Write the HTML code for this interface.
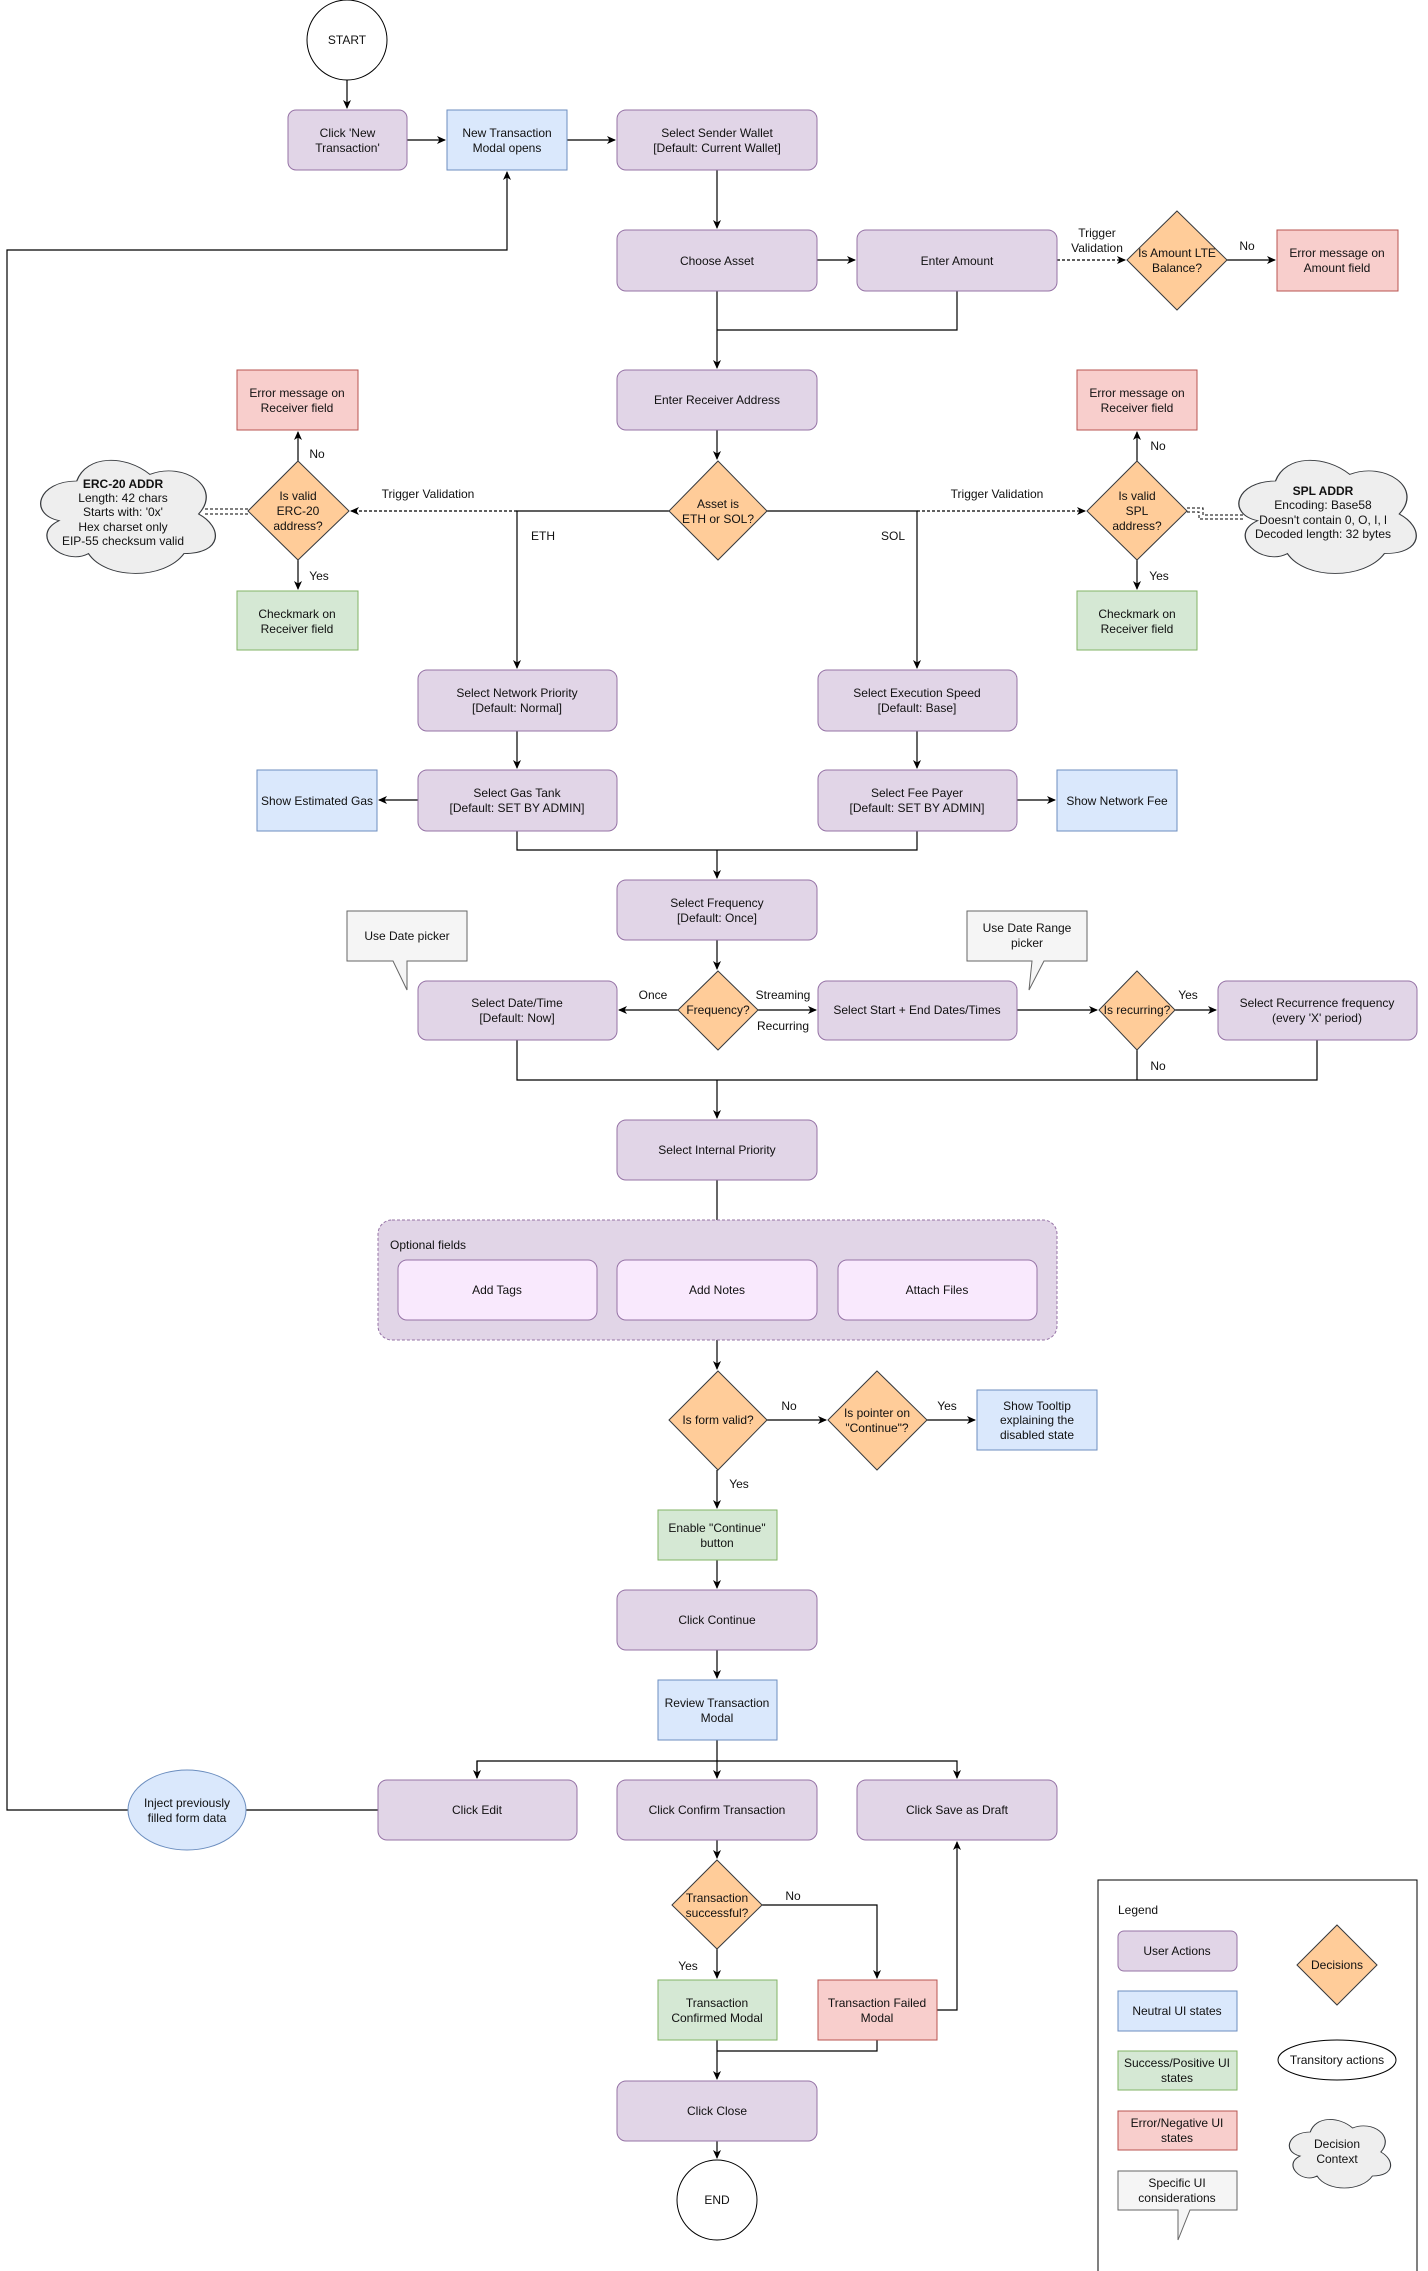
<!DOCTYPE html>
<html><head><meta charset="utf-8"><style>
html,body{margin:0;padding:0;background:#fff}
svg{display:block}
text{font-family:"Liberation Sans",Arial,sans-serif;font-size:12px;fill:#111}
.u{fill:#e1d5e7;stroke:#9673a6;stroke-width:1}
.b{fill:#dae8fc;stroke:#6c8ebf}
.g{fill:#d5e8d4;stroke:#82b366}
.r{fill:#f8cecc;stroke:#b85450}
.d{fill:#ffcc99;stroke:#36393d}
.c{fill:#eeeeee;stroke:#36393d}
.s{fill:#f5f5f5;stroke:#666}
.p{fill:#f9e9fd;stroke:#9673a6}
.l{fill:none;stroke:#000;stroke-width:1.2}
.dl{fill:none;stroke:#000;stroke-width:1.2;stroke-dasharray:3 2}
</style></head><body>
<svg width="1428" height="2271" viewBox="0 0 1428 2271" xmlns="http://www.w3.org/2000/svg">
<defs>
<marker id="a" markerWidth="10" markerHeight="10" refX="8" refY="5" orient="auto" markerUnits="userSpaceOnUse"><path d="M0,1 L9,5 L0,9 L2.5,5 Z" fill="#000"/></marker>
<path id="cl" d="M0.25,0.25 C0.05,0.25 0,0.5 0.16,0.55 C0,0.66 0.18,0.9 0.31,0.8 C0.4,1 0.7,1 0.8,0.8 C1,0.8 1,0.6 0.875,0.5 C1,0.3 0.8,0.1 0.625,0.2 C0.5,0.05 0.3,0.05 0.25,0.25 Z"/>
</defs>

<!-- connectors -->
<g class="l">
<path d="M347,80 V108" marker-end="url(#a)"/>
<path d="M407,140 H445" marker-end="url(#a)"/>
<path d="M567,140 H615" marker-end="url(#a)"/>
<path d="M717,170 V228" marker-end="url(#a)"/>
<path d="M817,260 H855" marker-end="url(#a)"/>
<path d="M1227,260 H1275" marker-end="url(#a)"/>
<path d="M717,291 V368" marker-end="url(#a)"/>
<path d="M957,291 V330 H717"/>
<path d="M717,430 V459" marker-end="url(#a)"/>
<path d="M669,511 H517 V668" marker-end="url(#a)"/>
<path d="M767,511 H917 V668" marker-end="url(#a)"/>
<path d="M298,461 V432" marker-end="url(#a)"/>
<path d="M298,560 V589" marker-end="url(#a)"/>
<path d="M1137,461 V432" marker-end="url(#a)"/>
<path d="M1137,560 V589" marker-end="url(#a)"/>
<path d="M517,731 V768" marker-end="url(#a)"/>
<path d="M917,731 V768" marker-end="url(#a)"/>
<path d="M418,800 H379" marker-end="url(#a)"/>
<path d="M1017,800 H1055" marker-end="url(#a)"/>
<path d="M517,831 V850 H917 V831"/>
<path d="M717,850 V878" marker-end="url(#a)"/>
<path d="M717,940 V969" marker-end="url(#a)"/>
<path d="M678,1010 H619" marker-end="url(#a)"/>
<path d="M758,1010 H816" marker-end="url(#a)"/>
<path d="M1017,1010 H1097" marker-end="url(#a)"/>
<path d="M1175,1010 H1216" marker-end="url(#a)"/>
<path d="M517,1040 V1080 H1317 V1040"/>
<path d="M1137,1050 V1080"/>
<path d="M717,1080 V1118" marker-end="url(#a)"/>
<path d="M717,1180 V1220"/>
<path d="M717,1340 V1369" marker-end="url(#a)"/>
<path d="M767,1420 H826" marker-end="url(#a)"/>
<path d="M927,1420 H975" marker-end="url(#a)"/>
<path d="M717,1470 V1508" marker-end="url(#a)"/>
<path d="M717,1560 V1588" marker-end="url(#a)"/>
<path d="M717,1650 V1678" marker-end="url(#a)"/>
<path d="M717,1740 V1778" marker-end="url(#a)"/>
<path d="M477,1778 V1761 H957 V1778" marker-end="url(#a)"/>
<path d="M477,1761 V1778" marker-end="url(#a)"/>
<path d="M378,1810 H246"/>
<path d="M128,1810 H7 V250 H507 V172" marker-end="url(#a)"/>
<path d="M717,1840 V1858" marker-end="url(#a)"/>
<path d="M762,1905 H877 V1978" marker-end="url(#a)"/>
<path d="M717,1949 V1978" marker-end="url(#a)"/>
<path d="M937,2010 H957 V1842" marker-end="url(#a)"/>
<path d="M717,2040 V2079" marker-end="url(#a)"/>
<path d="M877,2040 V2051 H717"/>
<path d="M717,2141 V2158" marker-end="url(#a)"/>
</g>
<g class="dl">
<path d="M1057,260 H1125" marker-end="url(#a)"/>
<path d="M517,511 H351" marker-end="url(#a)"/>
<path d="M917,511 H1085" marker-end="url(#a)"/>
</g>
<g fill="none" stroke="#000" stroke-width="1" stroke-dasharray="3 2">
<path d="M248,509 H205 M248,514 H205"/>
<path d="M1187,508 H1203 V515 H1245 M1187,512 H1199 V519 H1245"/>
</g>

<!-- nodes -->
<ellipse cx="347" cy="40" rx="40" ry="40" fill="#fff" stroke="#000"/>
<text x="347" y="44" text-anchor="middle">START</text>
<rect class="u" x="288" y="110" width="119" height="60" rx="8"/>
<text x="347.5" y="137" text-anchor="middle">Click 'New</text><text x="347.5" y="152" text-anchor="middle">Transaction'</text>
<rect class="b" x="447" y="110" width="120" height="60"/>
<text x="507" y="137" text-anchor="middle">New Transaction</text><text x="507" y="152" text-anchor="middle">Modal opens</text>
<rect class="u" x="617" y="110" width="200" height="60" rx="9"/>
<text x="717" y="137" text-anchor="middle">Select Sender Wallet</text><text x="717" y="152" text-anchor="middle">[Default: Current Wallet]</text>
<rect class="u" x="617" y="230" width="200" height="61" rx="9"/>
<text x="717" y="265" text-anchor="middle">Choose Asset</text>
<rect class="u" x="857" y="230" width="200" height="61" rx="9"/>
<text x="957" y="265" text-anchor="middle">Enter Amount</text>
<text x="1097" y="237" text-anchor="middle">Trigger</text><text x="1097" y="252" text-anchor="middle">Validation</text>
<polygon class="d" points="1177,211 1227,260 1177,310 1127,260"/>
<text x="1177" y="257" text-anchor="middle">Is Amount LTE</text><text x="1177" y="272" text-anchor="middle">Balance?</text>
<text x="1247" y="250" text-anchor="middle">No</text>
<rect class="r" x="1277" y="230" width="121" height="61"/>
<text x="1337" y="257" text-anchor="middle">Error message on</text><text x="1337" y="272" text-anchor="middle">Amount field</text>

<rect class="u" x="617" y="370" width="200" height="60" rx="9"/>
<text x="717" y="404" text-anchor="middle">Enter Receiver Address</text>
<polygon class="d" points="718,461 767,511 718,560 669,511"/>
<text x="718" y="508" text-anchor="middle">Asset is</text><text x="718" y="523" text-anchor="middle">ETH or SOL?</text>
<text x="543" y="540" text-anchor="middle">ETH</text>
<text x="893" y="540" text-anchor="middle">SOL</text>
<text x="428" y="498" text-anchor="middle">Trigger Validation</text>
<text x="997" y="498" text-anchor="middle">Trigger Validation</text>

<rect class="r" x="237" y="370" width="121" height="60"/>
<text x="297" y="397" text-anchor="middle">Error message on</text><text x="297" y="412" text-anchor="middle">Receiver field</text>
<text x="317" y="458" text-anchor="middle">No</text>
<polygon class="d" points="298,461 349,511 298,560 248,511"/>
<text x="298" y="500" text-anchor="middle">Is valid</text><text x="298" y="515" text-anchor="middle">ERC-20</text><text x="298" y="530" text-anchor="middle">address?</text>
<text x="319" y="580" text-anchor="middle">Yes</text>
<rect class="g" x="237" y="591" width="121" height="59"/>
<text x="297" y="618" text-anchor="middle">Checkmark on</text><text x="297" y="633" text-anchor="middle">Receiver field</text>
<use href="#cl" class="c" transform="translate(28,448) scale(195,132)" vector-effect="non-scaling-stroke" style="stroke-width:0.0065"/>
<text x="123" y="488" text-anchor="middle" font-weight="bold">ERC-20 ADDR</text>
<text x="123" y="502" text-anchor="middle">Length: 42 chars</text>
<text x="123" y="516" text-anchor="middle">Starts with: '0x'</text>
<text x="123" y="531" text-anchor="middle">Hex charset only</text>
<text x="123" y="545" text-anchor="middle">EIP-55 checksum valid</text>

<rect class="r" x="1077" y="370" width="120" height="60"/>
<text x="1137" y="397" text-anchor="middle">Error message on</text><text x="1137" y="412" text-anchor="middle">Receiver field</text>
<text x="1158" y="450" text-anchor="middle">No</text>
<polygon class="d" points="1137,461 1187,511 1137,560 1087,511"/>
<text x="1137" y="500" text-anchor="middle">Is valid</text><text x="1137" y="515" text-anchor="middle">SPL</text><text x="1137" y="530" text-anchor="middle">address?</text>
<text x="1159" y="580" text-anchor="middle">Yes</text>
<rect class="g" x="1077" y="591" width="120" height="59"/>
<text x="1137" y="618" text-anchor="middle">Checkmark on</text><text x="1137" y="633" text-anchor="middle">Receiver field</text>
<use href="#cl" class="c" transform="translate(1226,448) scale(198,132)" style="stroke-width:0.0065"/>
<text x="1323" y="495" text-anchor="middle" font-weight="bold">SPL ADDR</text>
<text x="1323" y="509" text-anchor="middle">Encoding: Base58</text>
<text x="1323" y="524" text-anchor="middle">Doesn't contain 0, O, I, l</text>
<text x="1323" y="538" text-anchor="middle">Decoded length: 32 bytes</text>

<rect class="u" x="418" y="670" width="199" height="61" rx="9"/>
<text x="517" y="697" text-anchor="middle">Select Network Priority</text><text x="517" y="712" text-anchor="middle">[Default: Normal]</text>
<rect class="u" x="818" y="670" width="199" height="61" rx="9"/>
<text x="917" y="697" text-anchor="middle">Select Execution Speed</text><text x="917" y="712" text-anchor="middle">[Default: Base]</text>
<rect class="u" x="418" y="770" width="199" height="61" rx="9"/>
<text x="517" y="797" text-anchor="middle">Select Gas Tank</text><text x="517" y="812" text-anchor="middle">[Default: SET BY ADMIN]</text>
<rect class="u" x="818" y="770" width="199" height="61" rx="9"/>
<text x="917" y="797" text-anchor="middle">Select Fee Payer</text><text x="917" y="812" text-anchor="middle">[Default: SET BY ADMIN]</text>
<rect class="b" x="257" y="770" width="120" height="61"/>
<text x="317" y="805" text-anchor="middle">Show Estimated Gas</text>
<rect class="b" x="1057" y="770" width="120" height="61"/>
<text x="1117" y="805" text-anchor="middle">Show Network Fee</text>

<rect class="u" x="617" y="880" width="200" height="60" rx="9"/>
<text x="717" y="907" text-anchor="middle">Select Frequency</text><text x="717" y="922" text-anchor="middle">[Default: Once]</text>
<path class="s" d="M347,911 H467 V961 H407 L407,990 L393,961 H347 Z"/>
<text x="407" y="940" text-anchor="middle">Use Date picker</text>
<path class="s" d="M967,911 H1087 V961 H1044 L1029,990 L1032,961 H967 Z"/>
<text x="1027" y="932" text-anchor="middle">Use Date Range</text><text x="1027" y="947" text-anchor="middle">picker</text>
<rect class="u" x="418" y="981" width="199" height="59" rx="9"/>
<text x="517" y="1007" text-anchor="middle">Select Date/Time</text><text x="517" y="1022" text-anchor="middle">[Default: Now]</text>
<polygon class="d" points="718,971 758,1010 718,1050 678,1010"/>
<text x="718" y="1014" text-anchor="middle">Frequency?</text>
<text x="653" y="999" text-anchor="middle">Once</text>
<text x="783" y="999" text-anchor="middle">Streaming</text>
<text x="783" y="1030" text-anchor="middle">Recurring</text>
<rect class="u" x="818" y="981" width="199" height="59" rx="9"/>
<text x="917" y="1014" text-anchor="middle">Select Start + End Dates/Times</text>
<polygon class="d" points="1137,971 1175,1010 1137,1050 1099,1010"/>
<text x="1137" y="1014" text-anchor="middle">Is recurring?</text>
<text x="1188" y="999" text-anchor="middle">Yes</text>
<text x="1158" y="1070" text-anchor="middle">No</text>
<rect class="u" x="1218" y="981" width="199" height="59" rx="9"/>
<text x="1317" y="1007" text-anchor="middle">Select Recurrence frequency</text><text x="1317" y="1022" text-anchor="middle">(every 'X' period)</text>

<rect class="u" x="617" y="1120" width="200" height="60" rx="9"/>
<text x="717" y="1154" text-anchor="middle">Select Internal Priority</text>
<rect x="378" y="1220" width="679" height="120" rx="14" fill="#e1d5e7" stroke="#9673a6" stroke-dasharray="3 2"/>
<text x="390" y="1249">Optional fields</text>
<rect class="p" x="398" y="1260" width="199" height="60" rx="9"/>
<text x="497" y="1294" text-anchor="middle">Add Tags</text>
<rect class="p" x="617" y="1260" width="200" height="60" rx="9"/>
<text x="717" y="1294" text-anchor="middle">Add Notes</text>
<rect class="p" x="838" y="1260" width="199" height="60" rx="9"/>
<text x="937" y="1294" text-anchor="middle">Attach Files</text>

<polygon class="d" points="718,1371 767,1420 718,1470 669,1420"/>
<text x="718" y="1424" text-anchor="middle">Is form valid?</text>
<text x="789" y="1410" text-anchor="middle">No</text>
<polygon class="d" points="877,1371 927,1420 877,1470 828,1420"/>
<text x="877" y="1417" text-anchor="middle">Is pointer on</text><text x="877" y="1432" text-anchor="middle">"Continue"?</text>
<text x="947" y="1410" text-anchor="middle">Yes</text>
<rect class="b" x="977" y="1390" width="120" height="60"/>
<text x="1037" y="1410" text-anchor="middle">Show Tooltip</text><text x="1037" y="1424" text-anchor="middle">explaining the</text><text x="1037" y="1439" text-anchor="middle">disabled state</text>
<text x="739" y="1488" text-anchor="middle">Yes</text>

<rect class="g" x="658" y="1510" width="119" height="50"/>
<text x="717" y="1532" text-anchor="middle">Enable "Continue"</text><text x="717" y="1547" text-anchor="middle">button</text>
<rect class="u" x="617" y="1590" width="200" height="60" rx="9"/>
<text x="717" y="1624" text-anchor="middle">Click Continue</text>
<rect class="b" x="658" y="1680" width="119" height="60"/>
<text x="717" y="1707" text-anchor="middle">Review Transaction</text><text x="717" y="1722" text-anchor="middle">Modal</text>

<rect class="u" x="378" y="1780" width="199" height="60" rx="9"/>
<text x="477" y="1814" text-anchor="middle">Click Edit</text>
<rect class="u" x="617" y="1780" width="200" height="60" rx="9"/>
<text x="717" y="1814" text-anchor="middle">Click Confirm Transaction</text>
<rect class="u" x="857" y="1780" width="200" height="60" rx="9"/>
<text x="957" y="1814" text-anchor="middle">Click Save as Draft</text>
<ellipse class="b" cx="187" cy="1810" rx="59" ry="40"/>
<text x="187" y="1807" text-anchor="middle">Inject previously</text><text x="187" y="1822" text-anchor="middle">filled form data</text>

<polygon class="d" points="717,1860 762,1905 717,1949 672,1905"/>
<text x="717" y="1902" text-anchor="middle">Transaction</text><text x="717" y="1917" text-anchor="middle">successful?</text>
<text x="793" y="1900" text-anchor="middle">No</text>
<text x="688" y="1970" text-anchor="middle">Yes</text>
<rect class="g" x="658" y="1980" width="119" height="60"/>
<text x="717" y="2007" text-anchor="middle">Transaction</text><text x="717" y="2022" text-anchor="middle">Confirmed Modal</text>
<rect class="r" x="818" y="1980" width="119" height="60"/>
<text x="877" y="2007" text-anchor="middle">Transaction Failed</text><text x="877" y="2022" text-anchor="middle">Modal</text>
<rect class="u" x="617" y="2081" width="200" height="60" rx="9"/>
<text x="717" y="2115" text-anchor="middle">Click Close</text>
<ellipse cx="717" cy="2200" rx="40" ry="40" fill="#fff" stroke="#000"/>
<text x="717" y="2204" text-anchor="middle">END</text>

<!-- legend -->
<rect x="1098" y="1880" width="319" height="400" fill="#fff" stroke="#000"/>
<text x="1118" y="1914">Legend</text>
<rect class="u" x="1118" y="1931" width="119" height="40" rx="6"/>
<text x="1177" y="1955" text-anchor="middle">User Actions</text>
<rect class="b" x="1118" y="1991" width="119" height="40"/>
<text x="1177" y="2015" text-anchor="middle">Neutral UI states</text>
<rect class="g" x="1118" y="2051" width="119" height="39"/>
<text x="1177" y="2067" text-anchor="middle">Success/Positive UI</text><text x="1177" y="2082" text-anchor="middle">states</text>
<rect class="r" x="1118" y="2111" width="119" height="39"/>
<text x="1177" y="2127" text-anchor="middle">Error/Negative UI</text><text x="1177" y="2142" text-anchor="middle">states</text>
<path class="s" d="M1118,2171 H1237 V2210 H1190 L1178,2240 L1178,2210 H1118 Z"/>
<text x="1177" y="2187" text-anchor="middle">Specific UI</text><text x="1177" y="2202" text-anchor="middle">considerations</text>
<polygon class="d" points="1337,1925 1377,1965 1337,2005 1297,1965"/>
<text x="1337" y="1969" text-anchor="middle">Decisions</text>
<ellipse cx="1337" cy="2060" rx="59" ry="20" fill="#fff" stroke="#000"/>
<text x="1337" y="2064" text-anchor="middle">Transitory actions</text>
<use href="#cl" class="c" transform="translate(1282,2112) scale(113,80)" style="stroke-width:0.01"/>
<text x="1337" y="2148" text-anchor="middle">Decision</text><text x="1337" y="2163" text-anchor="middle">Context</text>
</svg>
</body></html>
